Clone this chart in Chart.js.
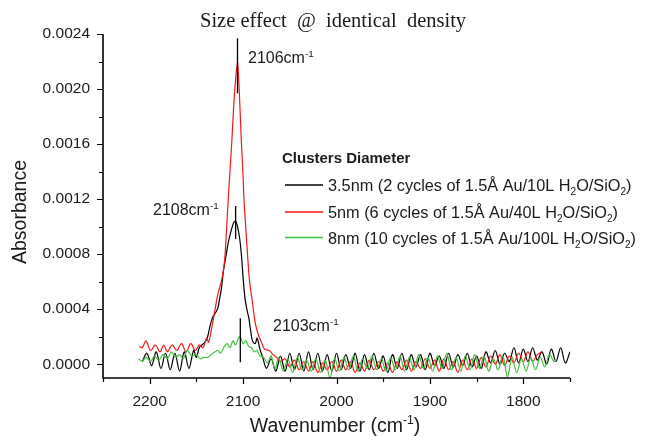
<!DOCTYPE html>
<html>
<head>
<meta charset="utf-8">
<script src="https://cdn.jsdelivr.net/npm/chart.js@4.4.1/dist/chart.umd.min.js"></script>
<style>
  html, body { margin: 0; padding: 0; background: #fff; }
  canvas { display: block; }
</style>
</head>
<body>
<canvas id="chart" width="649" height="436"></canvas>
<script>
// axis ticks
const xMajorTicks = [2200, 2100, 2000, 1900, 1800];
const xMinorTicks = [2250, 2150, 2050, 1950, 1850, 1750];
const yMajorTicks = [0, 0.0004, 0.0008, 0.0012, 0.0016, 0.0020, 0.0024];
const yMinorTicks = [0.0002, 0.0006, 0.0010, 0.0014, 0.0018, 0.0022];

// 3.5nm clusters (black)
const blackWave = [2208, 2203, 2198, 2193, 2188, 2183, 2178, 2173, 2168, 2163, 2158, 2153, 2150, 2147, 2144, 2141, 2138, 2135, 2132, 2129, 2127, 2125, 2123, 2121, 2118, 2116, 2114, 2112, 2110, 2108, 2106, 2104, 2102, 2100, 2098, 2096, 2094, 2092, 2090, 2087, 2085, 2082, 2079, 2075,
  2070, 2065, 2060, 2055, 2050, 2045, 2040, 2035, 2030, 2025, 2020, 2015, 2010, 2005, 2000, 1995, 1990, 1985, 1980, 1975, 1970, 1965, 1960, 1955, 1950, 1945, 1940, 1935, 1930, 1925, 1920, 1915, 1910, 1905, 1900,
  1895, 1890, 1885, 1880, 1875, 1870, 1865, 1860, 1855, 1850, 1845, 1840, 1835, 1830, 1825, 1820, 1815, 1810, 1805, 1800, 1795, 1790, 1785, 1780, 1775, 1770, 1765, 1760, 1755, 1750];
const blackAbs = [0.00002, 0.00008, -0.00001, 0.00009, -0.00003, 0.00008, -0.00004, 0.00008, -0.00005, 0.00009, -0.00003, 0.00010, 0.00005, 0.00012, 0.00014, 0.00016, 0.00020, 0.00029, 0.00035, 0.00038, 0.00041, 0.00048, 0.00056, 0.00068, 0.00080, 0.00088, 0.00094, 0.00099, 0.00103, 0.00104, 0.00100, 0.00093, 0.00081, 0.00063, 0.00048, 0.00040, 0.00034, 0.00025, 0.00017, 0.00015, 0.00019, 0.00011, 0.00005, -0.00003,
  0.00004, -0.00005, 0.00006, -0.00005, 0.00008, -0.00004, 0.00008, -0.00005, 0.00009, -0.00004, 0.00008, -0.00005, 0.00007, -0.00005, 0.00008, -0.00004, 0.00007, -0.00003, 0.00008, -0.00005, 0.00007, -0.00004, 0.00008, -0.00003, 0.00006, -0.00006, 0.00007, -0.00003, 0.00008, -0.00004, 0.00007, -0.00002, 0.00007, -0.00004, 0.00008,
  -0.00001, 0.00006, -0.00003, 0.00008, -0.00002, 0.00007, -0.00001, 0.00008, -0.00002, 0.00006, -0.00003, 0.00009, 0.00001, 0.00010, 0.00000, 0.00008, 0.00002, 0.00012, 0.00001, 0.00011, 0.00002, 0.00012, 0.00003, 0.00009, 0.00000, 0.00011, 0.00002, 0.00012, 0.00001, 0.00009];

// 5nm clusters (red)
const redWave = [2211, 2208, 2204, 2199, 2194, 2189, 2185, 2181, 2176, 2171, 2166, 2161, 2156, 2151, 2147, 2143, 2139, 2137, 2134, 2131, 2127, 2123, 2120, 2118, 2116, 2114, 2112, 2110, 2108, 2106, 2105, 2104, 2102, 2100, 2099, 2097, 2095, 2093, 2090, 2087, 2084, 2081, 2077, 2072, 2068, 2064,
  2060, 2055, 2050, 2045, 2040, 2035, 2030, 2025, 2020, 2015, 2010, 2005, 2000, 1995, 1990, 1985, 1980, 1975, 1970, 1965, 1960, 1955, 1950, 1945, 1940, 1935, 1930, 1925, 1920, 1915, 1910, 1905, 1900,
  1895, 1890, 1885, 1880, 1875, 1870, 1865, 1860, 1855, 1850, 1845, 1840, 1835, 1830, 1825, 1820, 1815, 1810, 1805, 1800, 1795, 1790, 1785, 1780];
const redAbs = [0.00013, 0.00012, 0.00017, 0.00010, 0.00014, 0.00009, 0.00014, 0.00009, 0.00014, 0.00010, 0.00015, 0.00009, 0.00015, 0.00010, 0.00014, 0.00012, 0.00019, 0.00016, 0.00025, 0.00036, 0.00051, 0.00061, 0.00074, 0.00095, 0.00119, 0.00141, 0.00163, 0.00188, 0.00207, 0.00219, 0.00210, 0.00197, 0.00164, 0.00136, 0.00119, 0.00098, 0.00077, 0.00060, 0.00045, 0.00030, 0.00022, 0.00017, 0.00011, 0.00010, 0.00007, 0.00005,
  0.00002, 0.00004, -0.00002, 0.00003, -0.00004, 0.00002, -0.00005, 0.00002, -0.00006, 0.00001, -0.00004, 0.00002, -0.00005, 0.00003, -0.00004, 0.00002, -0.00006, 0.00001, -0.00005, 0.00003, -0.00004, 0.00002, -0.00005, 0.00001, -0.00006, 0.00002, -0.00004, 0.00003, -0.00005, 0.00002, -0.00003, 0.00004, -0.00003,
  0.00003, -0.00005, 0.00004, -0.00004, 0.00002, -0.00006, 0.00003, -0.00004, 0.00004, -0.00003, 0.00005, -0.00002, 0.00006, 0.00000, 0.00007, -0.00001, 0.00006, 0.00001, 0.00008, 0.00002, 0.00009, 0.00002, 0.00007, 0.00009];

// 8nm clusters (green)
const greenWave = [2212, 2208, 2204, 2199, 2195, 2190, 2186, 2181, 2177, 2172, 2168, 2164, 2160, 2155, 2150, 2146, 2142, 2138, 2134, 2130, 2127, 2124, 2120, 2117, 2114, 2111, 2108, 2105, 2103, 2100, 2097, 2094, 2091, 2088, 2085, 2082, 2078, 2074, 2070,
  2066, 2062, 2057, 2052, 2047, 2042, 2037, 2032, 2027, 2022, 2017, 2012, 2007, 2002, 1997, 1992, 1987, 1982, 1977, 1972, 1967, 1962, 1957, 1952, 1947, 1942, 1937, 1932, 1927, 1922, 1917, 1912, 1907, 1902,
  1897, 1892, 1887, 1882, 1877, 1872, 1867, 1862, 1857, 1852, 1847, 1842, 1837, 1832, 1827, 1822, 1817, 1812, 1807, 1802, 1797, 1792, 1787, 1782, 1777, 1772, 1767, 1765];
const greenAbs = [0.00004, 0.00002, 0.00005, 0.00002, 0.00006, 0.00003, 0.00007, 0.00004, 0.00009, 0.00005, 0.00007, 0.00004, 0.00010, 0.00006, 0.00007, 0.00004, 0.00005, 0.00005, 0.00007, 0.00009, 0.00010, 0.00008, 0.00013, 0.00015, 0.00012, 0.00017, 0.00014, 0.00019, 0.00020, 0.00015, 0.00017, 0.00013, 0.00012, 0.00009, 0.00010, 0.00006, 0.00005, 0.00001, 0.00006,
  -0.00004, 0.00005, -0.00005, 0.00004, -0.00006, 0.00005, -0.00004, 0.00003, -0.00005, 0.00004, -0.00006, 0.00003, -0.00010, 0.00004, -0.00005, 0.00005, -0.00004, 0.00006, -0.00005, 0.00004, -0.00003, 0.00006, -0.00004, 0.00004, -0.00005, 0.00005, -0.00004, 0.00006, -0.00005, 0.00005, -0.00004, 0.00007, -0.00003, 0.00005,
  -0.00005, 0.00006, -0.00003, 0.00008, -0.00004, 0.00005, -0.00005, 0.00006, -0.00004, 0.00007, -0.00003, 0.00006, -0.00005, 0.00004, -0.00004, 0.00006, -0.00009, 0.00005, -0.00006, 0.00004, -0.00005, 0.00005, -0.00004, 0.00005, -0.00002, 0.00007, 0.00002, 0.00003];

// peak markers
const peakNames = ['2106', '2108', '2103'];
const peakWave = [2106, 2108, 2103];
const peakTop = [0.00237, 0.00115, 0.000335];
const peakBottom = [0.00197, 0.00091, 0.000015];

const seriesNames = [
  [['3.5nm (2 cycles of 1.5\u00c5 Au/10L H', 'n'], ['2', 'sub'], ['O/SiO', 'n'], ['2', 'sub'], [')', 'n']],
  [['5nm (6 cycles of 1.5\u00c5 Au/40L H', 'n'], ['2', 'sub'], ['O/SiO', 'n'], ['2', 'sub'], [')', 'n']],
  [['8nm (10 cycles of 1.5\u00c5 Au/100L H', 'n'], ['2', 'sub'], ['O/SiO', 'n'], ['2', 'sub'], [')', 'n']]
];
const seriesColors = ['#000000', '#f01818', '#44c03c'];

const SANS = '"Liberation Sans", Arial, sans-serif';
const TEXT = '#1a1a1a';

function toPoints(w, a) {
  return w.map((x, i) => ({ x: x, y: a[i] }));
}

function richWidth(ctx, parts, size) {
  let w = 0;
  for (const [t, k] of parts) {
    const fs = k === 'n' ? size : size * 0.62;
    ctx.font = fs + 'px ' + SANS;
    w += ctx.measureText(t).width;
  }
  return w;
}

function drawRich(ctx, parts, x, y, size) {
  for (const [t, k] of parts) {
    let fs = size, dy = 0;
    if (k === 'sup') { fs = size * 0.62; dy = -size * 0.4; }
    if (k === 'sub') { fs = size * 0.62; dy = size * 0.25; }
    ctx.font = fs + 'px ' + SANS;
    ctx.fillText(t, x, y + dy);
    x += ctx.measureText(t).width;
  }
}

const decorations = {
  id: 'decorations',
  afterDraw(chart) {
    const ctx = chart.ctx;
    const xs = chart.scales.x, ys = chart.scales.y;
    const area = chart.chartArea;
    ctx.save();
    ctx.strokeStyle = '#000';
    ctx.fillStyle = TEXT;
    ctx.textAlign = 'left';
    ctx.textBaseline = 'alphabetic';

    // axes
    ctx.lineWidth = 1.6;
    ctx.beginPath();
    ctx.moveTo(area.left, area.top);
    ctx.lineTo(area.left, area.bottom);
    ctx.lineTo(area.right, area.bottom);
    ctx.stroke();

    ctx.lineWidth = 1.2;
    ctx.beginPath();
    xMajorTicks.concat(xMinorTicks).forEach(v => {
      const px = Math.round(xs.getPixelForValue(v)) + 0.5;
      const len = xMajorTicks.includes(v) ? 6 : 4;
      ctx.moveTo(px, area.bottom);
      ctx.lineTo(px, area.bottom + len);
    });
    yMajorTicks.concat(yMinorTicks).forEach(v => {
      const py = Math.round(ys.getPixelForValue(v)) + 0.5;
      const len = yMajorTicks.includes(v) ? 6 : 4;
      ctx.moveTo(area.left, py);
      ctx.lineTo(area.left - len, py);
    });
    ctx.stroke();

    // peak markers and labels
    ctx.lineWidth = 1.3;
    ctx.beginPath();
    peakWave.forEach((w, i) => {
      const px = xs.getPixelForValue(w);
      ctx.moveTo(px, ys.getPixelForValue(peakTop[i]));
      ctx.lineTo(px, ys.getPixelForValue(peakBottom[i]));
    });
    ctx.stroke();
    const labelPos = [[248, 63], [153, 215], [273, 331]];
    peakNames.forEach((n, i) => {
      drawRich(ctx, [[n + 'cm', 'n'], ['-1', 'sup']], labelPos[i][0], labelPos[i][1], 16);
    });

    // legend
    ctx.font = 'bold 15px ' + SANS;
    ctx.fillText('Clusters Diameter', 282, 163);
    const rowY = [185, 212, 237.5];
    rowY.forEach((y, i) => {
      ctx.strokeStyle = seriesColors[i];
      ctx.lineWidth = 1.5;
      ctx.beginPath();
      ctx.moveTo(285, y);
      ctx.lineTo(323, y);
      ctx.stroke();
      drawRich(ctx, seriesNames[i], 328, y + 6.2, 16.3);
    });

    // title
    ctx.font = '20.5px "Liberation Serif", "Times New Roman", serif';
    ctx.fillText('Size effect  @  identical  density', 200, 26.5);

    // axis titles
    const xt = [['Wavenumber (cm', 'n'], ['-1', 'sup'], [')', 'n']];
    const xw = richWidth(ctx, xt, 19.5);
    drawRich(ctx, xt, 335 - xw / 2, 432, 19.5);

    ctx.translate(26, 212);
    ctx.rotate(-Math.PI / 2);
    ctx.textAlign = 'center';
    ctx.font = '19.5px ' + SANS;
    ctx.fillText('Absorbance', 0, 0);
    ctx.restore();
  }
};

new Chart(document.getElementById('chart'), {
  type: 'line',
  data: {
    datasets: [
      { label: '3.5nm', data: toPoints(blackWave, blackAbs), borderColor: seriesColors[0], order: 2 },
      { label: '5nm', data: toPoints(redWave, redAbs), borderColor: seriesColors[1], order: 1 },
      { label: '8nm', data: toPoints(greenWave, greenAbs), borderColor: seriesColors[2], order: 0 }
    ]
  },
  options: {
    responsive: false,
    animation: false,
    devicePixelRatio: 1,
    layout: { padding: { left: 0, top: 34, right: 79, bottom: 0 } },
    elements: {
      point: { radius: 0 },
      line: { borderWidth: 1.2, tension: 0.35, fill: false }
    },
    plugins: {
      legend: { display: false },
      tooltip: { enabled: false },
      title: { display: false }
    },
    scales: {
      x: {
        type: 'linear',
        reverse: true,
        min: 1750,
        max: 2250,
        grid: { display: false, drawTicks: false },
        border: { display: false },
        afterBuildTicks: s => { s.ticks = xMajorTicks.map(v => ({ value: v })); },
        afterFit: s => { s.height = 58; },
        ticks: {
          autoSkip: false,
          maxRotation: 0,
          padding: 14,
          color: TEXT,
          font: { family: 'Liberation Sans', size: 15.5 },
          callback: v => String(v)
        }
      },
      y: {
        min: -0.0001,
        max: 0.0024,
        grid: { display: false, drawTicks: false },
        border: { display: false },
        afterBuildTicks: s => { s.ticks = yMajorTicks.map(v => ({ value: v })); },
        afterFit: s => { s.width = 103; },
        ticks: {
          autoSkip: false,
          padding: 13,
          color: TEXT,
          font: { family: 'Liberation Sans', size: 15.5 },
          callback: v => v.toFixed(4)
        }
      }
    }
  },
  plugins: [decorations]
});
</script>
</body>
</html>
